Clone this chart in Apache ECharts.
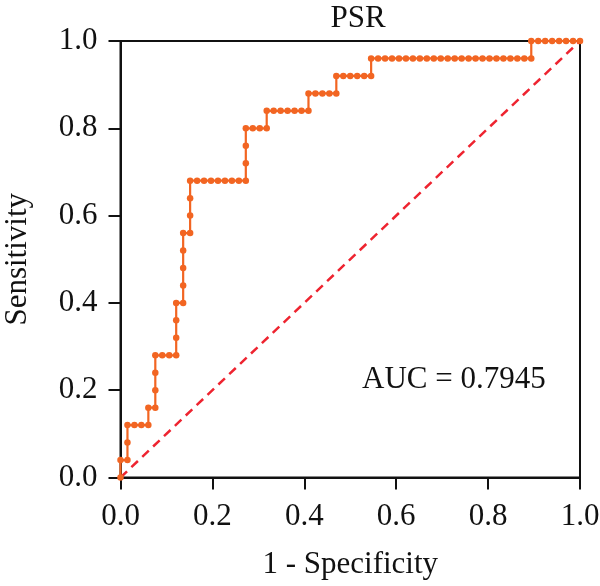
<!DOCTYPE html>
<html lang="en">

<head>
  <meta charset="UTF-8">
  <script src="https://cdn.jsdelivr.net/npm/echarts@6/dist/echarts.min.js"></script>
  <style>
    body {
      margin: 0;
      background: #fff;
    }

    #main {
      width: 600px;
      height: 586px;
    }
  </style>
  <title>PSR</title>
</head>

<body>
  <div id="main"></div>

  <script>
    // ROC points as counts: false positives (of 66 negatives), true positives (of 25 positives)
    const nNeg = 66;
    const nPos = 25;
    const fpCount = [0, 0, 1, 1, 1, 2, 3, 4, 4, 5, 5, 5, 5, 6, 7, 8, 8, 8, 8, 9, 9, 9, 9, 9,
      10, 10, 10, 10, 11, 12, 13, 14, 15, 16, 17, 18, 18, 18, 18, 19, 20, 21, 21,
      22, 23, 24, 25, 26, 27, 27, 28, 29, 30, 31, 31, 32, 33, 34, 35, 36, 36,
      37, 38, 39, 40, 41, 42, 43, 44, 45, 46, 47, 48, 49, 50, 51, 52, 53, 54, 55, 56, 57, 58, 59, 59,
      60, 61, 62, 63, 64, 65, 66];
    const tpCount = [0, 1, 1, 2, 3, 3, 3, 3, 4, 4, 5, 6, 7, 7, 7, 7, 8, 9, 10, 10, 11, 12, 13, 14,
      14, 15, 16, 17, 17, 17, 17, 17, 17, 17, 17, 17, 18, 19, 20, 20, 20, 20, 21,
      21, 21, 21, 21, 21, 21, 22, 22, 22, 22, 22, 23, 23, 23, 23, 23, 23, 24,
      24, 24, 24, 24, 24, 24, 24, 24, 24, 24, 24, 24, 24, 24, 24, 24, 24, 24, 24, 24, 24, 24, 24, 25,
      25, 25, 25, 25, 25, 25, 25];
    const diagX = [0, 1];
    const diagY = [0, 1];
    const aucText = 'AUC = 0.7945';
    const titleText = 'PSR';

    const rocData = fpCount.map((f, i) => [f / nNeg, tpCount[i] / nPos]);
    const diagData = diagX.map((x, i) => [x, diagY[i]]);

    const FONT = '"Liberation Serif", "DejaVu Serif", serif';
    const FS = 31;

    var myChart = echarts.init(document.getElementById('main'));
    var option = {
      animation: false,
      title: {
        text: titleText,
        left: 353,
        top: -2,
        textAlign: 'center',
        textStyle: { fontFamily: FONT, fontSize: FS, fontWeight: 'normal', color: '#111' }
      },
      grid: {
        left: 120.5,
        right: 20,
        top: 41,
        bottom: 108.5,
        outerBoundsMode: 'none',
        show: true,
        borderColor: '#111',
        borderWidth: 2
      },
      xAxis: {
        type: 'value',
        min: 0,
        max: 1,
        interval: 0.2,
        name: '1 - Specificity',
        nameLocation: 'middle',
        nameGap: 72,
        nameTextStyle: { fontFamily: FONT, fontSize: FS, color: '#111' },
        axisLine: { lineStyle: { color: '#111', width: 2 } },
        axisTick: { length: 12, lineStyle: { color: '#111', width: 2 } },
        axisLabel: {
          margin: 24,
          fontFamily: FONT, fontSize: FS, color: '#111',
          formatter: v => v.toFixed(1)
        },
        splitLine: { show: false }
      },
      yAxis: {
        type: 'value',
        min: 0,
        max: 1,
        interval: 0.2,
        name: 'Sensitivity',
        nameLocation: 'middle',
        nameGap: 87,
        nameTextStyle: { fontFamily: FONT, fontSize: FS, color: '#111' },
        axisLine: { lineStyle: { color: '#111', width: 2 } },
        axisTick: { length: 12, lineStyle: { color: '#111', width: 2 } },
        axisLabel: {
          margin: 23,
          fontFamily: FONT, fontSize: FS, color: '#111',
          formatter: v => v.toFixed(1)
        },
        splitLine: { show: false }
      },
      graphic: [{
        type: 'text',
        left: 362,
        top: 364,
        style: { text: aucText, fontFamily: FONT, fontSize: FS, fill: '#111' }
      }],
      series: [
        {
          name: 'diagonal',
          type: 'line',
          data: diagData,
          symbol: 'none',
          lineStyle: { color: '#ee2430', width: 2.5, type: [9, 6] },
          z: 2
        },
        {
          name: 'ROC',
          type: 'line',
          data: rocData,
          symbol: 'circle',
          symbolSize: 6.5,
          clip: false,
          itemStyle: { color: '#f26522' },
          lineStyle: { color: '#f26522', width: 2.2 },
          z: 3
        }
      ]
    };

    option && myChart.setOption(option);
  </script>
</body>

</html>
